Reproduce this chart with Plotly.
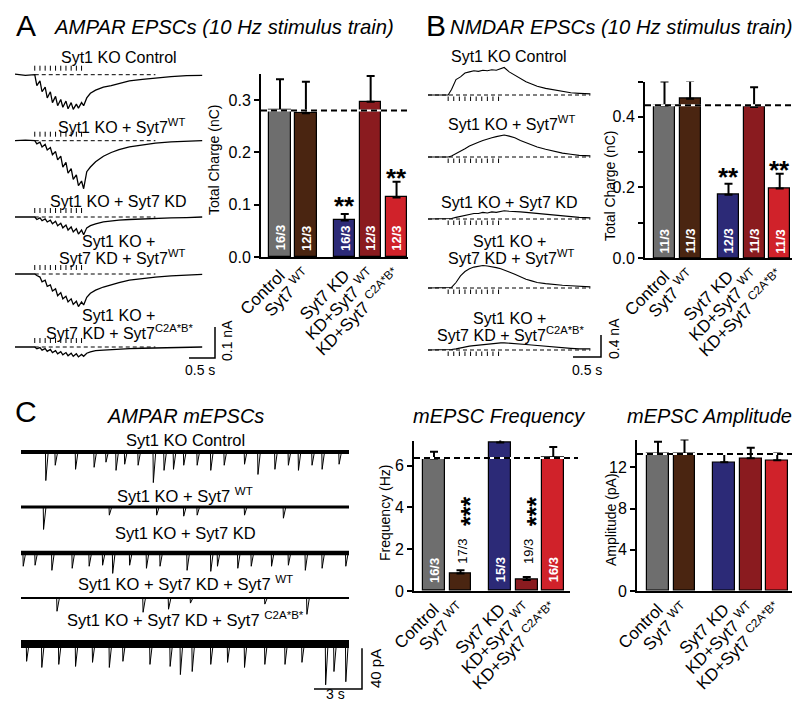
import plotly.graph_objects as go

W, H = 800, 701
FONT = "Liberation Sans, Arial, Helvetica, sans-serif"

# ------------------------------------------------------------------ data
groups = ["Control", "Syt7 <sup>WT</sup>", "Syt7 KD", "KD+Syt7 <sup>WT</sup>",
          "KD+Syt7 <sup>C2A*B*</sup>"]
bar_colors = ["#6e6e6e", "#4a2511", "#2c2a77", "#8a1b1f", "#d0222a"]

ampa_charge = [0.281, 0.275, 0.070, 0.297, 0.114]
ampa_charge_err = [0.059, 0.060, 0.012, 0.049, 0.030]
ampa_n = ["16/3", "12/3", "16/3", "12/3", "12/3"]
ampa_stars = ["", "", "**", "", "**"]
ampa_ref = 0.28

nmda_charge = [0.431, 0.451, 0.179, 0.428, 0.197]
nmda_charge_err = [0.069, 0.051, 0.031, 0.056, 0.042]
nmda_n = ["11/3", "11/3", "12/3", "11/3", "11/3"]
nmda_stars = ["", "", "**", "", "**"]
nmda_ref = 0.433

mini_freq = [6.34, 0.84, 7.10, 0.53, 6.38]
mini_freq_err = [0.32, 0.15, 0.27, 0.14, 0.51]
mini_freq_n = ["16/3", "17/3", "15/3", "19/3", "16/3"]
mini_freq_stars = ["", "***", "", "***", ""]
mini_freq_ref = 6.36

mini_amp = [13.3, 13.3, 12.5, 12.9, 12.7]
mini_amp_err = [1.2, 1.4, 0.8, 1.0, 0.65]
mini_amp_ref = 13.3

# AMPAR EPSC traces (time s, current nA)
ampa_t = [0.0, 0.2, 0.38, 0.42, 0.48, 0.52, 0.58, 0.62, 0.68, 0.72, 0.78, 0.82,
          0.88, 0.92, 0.98, 1.02, 1.08, 1.12, 1.18, 1.22, 1.28, 1.32, 1.38, 1.45,
          1.55, 1.7, 1.85, 2.0, 2.2, 2.45, 2.7, 3.0, 3.3, 3.6]
ampa_ctrl = [0.002, -0.002, 0.0, -0.035, -0.02, -0.055, -0.04, -0.075, -0.055, -0.09,
             -0.07, -0.1, -0.08, -0.105, -0.085, -0.11, -0.09, -0.112, -0.095, -0.108,
             -0.09, -0.1, -0.075, -0.06, -0.05, -0.04, -0.035, -0.028, -0.02, -0.015,
             -0.01, -0.006, -0.003, -0.002]
ampa_wt = [0.0, 0.002, 0.0, -0.01, -0.005, -0.02, -0.012, -0.03, -0.022, -0.045,
           -0.035, -0.062, -0.05, -0.085, -0.07, -0.105, -0.09, -0.125, -0.11, -0.145,
           -0.13, -0.155, -0.1, -0.085, -0.068, -0.05, -0.038, -0.029, -0.02, -0.013,
           -0.008, -0.004, -0.002, 0.0]
ampa_kd = [0.0, 0.001, 0.0, -0.008, -0.003, -0.012, -0.006, -0.016, -0.01, -0.022,
           -0.014, -0.028, -0.02, -0.035, -0.026, -0.042, -0.032, -0.048, -0.038, -0.055,
           -0.042, -0.057, -0.035, -0.028, -0.022, -0.016, -0.012, -0.01, -0.008, -0.006,
           -0.004, -0.003, -0.002, 0.0]
ampa_kdwt = [0.0, 0.0, 0.0, -0.005, -0.01, -0.025, -0.02, -0.04, -0.035, -0.055,
             -0.048, -0.07, -0.06, -0.08, -0.072, -0.09, -0.08, -0.098, -0.088, -0.105,
             -0.09, -0.1, -0.075, -0.062, -0.052, -0.042, -0.034, -0.028, -0.02, -0.014,
             -0.01, -0.006, -0.003, -0.001]
ampa_c2a = [0.0, 0.0, 0.0, -0.006, -0.002, -0.01, -0.005, -0.014, -0.008, -0.018,
            -0.012, -0.022, -0.015, -0.025, -0.018, -0.028, -0.02, -0.03, -0.022, -0.032,
            -0.024, -0.03, -0.02, -0.016, -0.012, -0.01, -0.008, -0.006, -0.005, -0.004,
            -0.003, -0.002, -0.001, 0.0]
ampa_stim = [0.38, 0.48, 0.58, 0.68, 0.78, 0.88, 0.98, 1.08, 1.18, 1.28]

# NMDAR EPSC traces (time s, current nA, shown upward)
nmda_t = [0.0, 0.2, 0.36, 0.42, 0.5, 0.58, 0.66, 0.74, 0.82, 0.9, 0.98, 1.06, 1.14,
          1.22, 1.3, 1.36, 1.45, 1.55, 1.65, 1.75, 1.85, 1.95, 2.1, 2.25, 2.4, 2.55,
          2.7, 2.9]
nmda_ctrl = [0.0, 0.005, 0.0, 0.1, 0.28, 0.33, 0.4, 0.42, 0.44, 0.43, 0.45, 0.44,
             0.46, 0.45, 0.48, 0.5, 0.42, 0.36, 0.3, 0.24, 0.2, 0.16, 0.12, 0.09,
             0.06, 0.04, 0.03, 0.02]
nmda_wt = [0.0, 0.0, 0.0, 0.02, 0.06, 0.1, 0.15, 0.2, 0.24, 0.27, 0.3, 0.33, 0.35,
           0.37, 0.39, 0.4, 0.38, 0.35, 0.3, 0.26, 0.22, 0.18, 0.14, 0.1, 0.07, 0.05,
           0.03, 0.02]
nmda_kd = [0.0, 0.0, 0.0, 0.01, 0.03, 0.05, 0.07, 0.09, 0.1, 0.1, 0.12, 0.11, 0.13,
           0.12, 0.14, 0.15, 0.14, 0.14, 0.13, 0.12, 0.11, 0.1, 0.08, 0.07, 0.05,
           0.04, 0.03, 0.02]
nmda_kdwt = [0.0, 0.0, 0.0, 0.01, 0.1, 0.22, 0.3, 0.35, 0.38, 0.4, 0.41, 0.4, 0.39,
             0.37, 0.35, 0.33, 0.29, 0.25, 0.2, 0.16, 0.13, 0.1, 0.08, 0.06, 0.05,
             0.04, 0.03, 0.02]
nmda_c2a = [0.0, 0.0, 0.0, 0.01, 0.02, 0.04, 0.05, 0.07, 0.08, 0.09, 0.1, 0.1, 0.11,
            0.12, 0.13, 0.13, 0.12, 0.12, 0.11, 0.1, 0.09, 0.08, 0.07, 0.05, 0.04,
            0.03, 0.02, 0.02]
nmda_stim = [0.36, 0.46, 0.56, 0.66, 0.76, 0.86, 0.96, 1.06, 1.16, 1.26]

# mEPSC events (time s, amplitude pA)
mini_ctrl_t = [1.55, 2.14, 3.41, 4.57, 5.31, 5.94, 6.48, 7.32, 8.27, 8.94, 9.53, 10.17,
               11.01, 11.86, 12.70, 13.97, 14.81, 15.87, 16.71, 17.34, 18.19, 18.82, 19.88]
mini_ctrl_a = [28, 13, 17, 15, 10, 18, 12, 13, 30, 18, 17, 13, 13, 18, 13, 12, 22, 17,
               13, 18, 13, 17, 12]
mini_wt_t = [1.41, 5.52, 8.48, 10.17, 11.01, 13.97, 16.4]
mini_wt_a = [22, 8, 8, 9, 8, 8, 11]
mini_kd_t = [0.14, 0.88, 1.93, 3.2, 4.26, 5.1, 5.73, 6.79, 7.84, 8.69, 10.38, 11.86,
             12.28, 13.55, 14.39, 15.66, 16.71, 17.77, 18.82, 20.3]
mini_kd_a = [13, 12, 17, 15, 13, 12, 20, 12, 15, 13, 17, 18, 13, 15, 13, 13, 12, 17, 15, 13]
mini_kdwt_t = [2.25, 7.63, 9.22, 10.59, 15.24, 17.87]
mini_kdwt_a = [13, 14, 11, 5, 6, 16]
mini_c2a_t = [0.35, 1.3, 2.36, 3.41, 4.47, 5.52, 6.37, 8.06, 9.32, 9.96, 10.7, 11.86,
              12.91, 13.97, 15.24, 16.5, 17.56, 19.04, 19.56, 20.3]
mini_c2a_a = [17, 23, 20, 22, 18, 23, 17, 20, 22, 30, 27, 20, 18, 23, 20, 20, 18, 40, 27, 37]
mini_duration = 20.5

# ------------------------------------------------------------------ helpers
fig = go.Figure()
annotations, shapes = [], []
layout_axes = {}


def px2x(px):
    return px / W


def py2y(py):
    return 1 - py / H


def ax_names(n):
    return ("x" if n == 1 else f"x{n}", "y" if n == 1 else f"y{n}",
            "xaxis" if n == 1 else f"xaxis{n}", "yaxis" if n == 1 else f"yaxis{n}")


def text(px, py, s, size=16, angle=0, xanchor="center", italic=False, **kw):
    if italic:
        s = f"<i>{s}</i>"
    annotations.append(dict(x=px2x(px), y=py2y(py), xref="paper", yref="paper", text=s,
                            showarrow=False, xanchor=xanchor, yanchor="middle",
                            textangle=angle, font=dict(family=FONT, size=size, color="black"),
                            **kw))


# ------------------------------------------------------------------ bar panels
xpos = [0, 1, 2.5, 3.5, 4.5]


def bar_panel(n, means, errs, L, R, c0, u, zero_px, ppu, ymax, ref, dash_r,
              tickvals, ticktext):
    xn, yn, xk, yk = ax_names(n)
    fig.add_trace(go.Bar(
        x=xpos, y=means, width=0.82, xaxis=xn, yaxis=yn, showlegend=False,
        marker=dict(color=bar_colors, line=dict(color="black", width=1.2)),
        error_y=dict(type="data", array=errs, arrayminus=[0] * len(errs), symmetric=False,
                     color="black", thickness=2, width=4)))
    top_px = zero_px - ymax * ppu
    layout_axes[xk] = dict(domain=[px2x(L), px2x(R)], range=[(L - c0) / u, (R - c0) / u],
                           anchor=yn, showline=True, linecolor="black", linewidth=2,
                           ticks="", tickvals=xpos, ticktext=groups, tickangle=-45,
                           tickfont=dict(family=FONT, size=17, color="black"),
                           showgrid=False, zeroline=False, automargin=False)
    layout_axes[yk] = dict(domain=[py2y(zero_px), py2y(top_px)], range=[0, ymax],
                           anchor=xn, showline=True, linecolor="black", linewidth=2,
                           ticks="outside", ticklen=5, tickwidth=1.5, tickcolor="black",
                           tickvals=tickvals, ticktext=ticktext,
                           tickfont=dict(family=FONT, size=16, color="black"),
                           showgrid=False, zeroline=False, automargin=False)
    shapes.append(dict(type="line", xref="paper", yref=yn, x0=px2x(L), x1=px2x(dash_r),
                       y0=ref, y1=ref, line=dict(color="white", width=2), layer="above"))
    shapes.append(dict(type="line", xref="paper", yref=yn, x0=px2x(L), x1=px2x(dash_r),
                       y0=ref, y1=ref, line=dict(color="black", width=2, dash="6px,4px"),
                       layer="above"))
    return xn, yn


def bar_note(xn, yn, i, y, s, color="white", size=13, bold=True, yshift=0, xshift=0):
    if bold:
        s = f"<b>{s}</b>"
    annotations.append(dict(x=xpos[i], y=y, xref=xn, yref=yn, text=s, showarrow=False,
                            textangle=-90, xanchor="center", yanchor="middle",
                            yshift=yshift, xshift=xshift,
                            font=dict(family=FONT, size=size, color=color)))


def star_note(xn, yn, i, y, s, angle=0, size=26, xshift=0, yshift=-7):
    annotations.append(dict(x=xpos[i], y=y, xref=xn, yref=yn, text=f"<b>{s}</b>",
                            showarrow=False, textangle=angle, xanchor="center",
                            yanchor="middle", xshift=xshift, yshift=yshift,
                            font=dict(family=FONT, size=size, color="black")))


# A bars
xa, ya = bar_panel(2, ampa_charge, ampa_charge_err, 253, 400, 272, 25.9, 249, 523, 0.35,
                   ampa_ref, 400, [0, 0.1, 0.2, 0.3], ["0.0", "0.1", "0.2", "0.3"])
for i, s in enumerate(ampa_n):
    bar_note(xa, ya, i, 0.036, s)
for i, (s, y) in enumerate(zip(ampa_stars, [None, None, 0.110, None, 0.164])):
    if s:
        star_note(xa, ya, i, y, s)

# B bars
xb, yb = bar_panel(4, nmda_charge, nmda_charge_err, 637, 788, 656.5, 25.6, 250, 353, 0.5,
                   nmda_ref, 787, [0, 0.1, 0.2, 0.3, 0.4, 0.5],
                   ["0.0", "", "0.2", "", "0.4", ""])
for i, s in enumerate(nmda_n):
    bar_note(xb, yb, i, 0.048, s)
for i, (s, y) in enumerate(zip(nmda_stars, [None, None, 0.25, None, 0.269])):
    if s:
        star_note(xb, yb, i, y, s)

# Frequency bars
xf, yf = bar_panel(6, mini_freq, mini_freq_err, 406, 562, 426, 26.5, 583, 20.9, 7.2,
                   mini_freq_ref, 570, [0, 2, 4, 6], ["0", "2", "4", "6"])
for i, s in enumerate(mini_freq_n):
    if mini_freq[i] > 2:
        bar_note(xf, yf, i, 1.0, s)
    else:
        bar_note(xf, yf, i, 1.9, s, color="black", size=13, bold=False, xshift=2)
for i, s in enumerate(mini_freq_stars):
    if s:
        star_note(xf, yf, i, 3.8, s, angle=-90, size=25, xshift=9, yshift=0)

# Amplitude bars
xm, ym = bar_panel(7, mini_amp, mini_amp_err, 629, 788, 650, 26.5, 583, 10.3, 14.7,
                   mini_amp_ref, 796, [0, 4, 8, 12], ["0", "4", "8", "12"])

# ------------------------------------------------------------------ trace panels
def trace_axes(n, L, R, top, bot, t0_px, px_per_t, px_per_v):
    xn, yn, xk, yk = ax_names(n)
    layout_axes[xk] = dict(domain=[px2x(L), px2x(R)],
                           range=[(L - t0_px) / px_per_t, (R - t0_px) / px_per_t],
                           anchor=yn, visible=False, showgrid=False, zeroline=False)
    layout_axes[yk] = dict(domain=[py2y(bot), py2y(top)],
                           range=[-(bot - top) / px_per_v, 0],
                           anchor=xn, visible=False, showgrid=False, zeroline=False)
    return xn, yn


def line(xn, yn, x, y, width=1.2, dash=None, color="black"):
    fig.add_trace(go.Scatter(x=x, y=y, mode="lines", xaxis=xn, yaxis=yn,
                             showlegend=False, hoverinfo="skip",
                             line=dict(color=color, width=width, dash=dash)))


# ---- Panel A traces
A_TOP, A_BOT, A_T0, A_PXS, A_PXV = 30, 372, 7, 52, 310
xt, yt = trace_axes(1, 0, 240, A_TOP, A_BOT, A_T0, A_PXS, A_PXV)
a_base_px = [66.7, 132.7, 209, 266, 339]
for base_px, vals in zip(a_base_px, [ampa_ctrl, ampa_wt, ampa_kd, ampa_kdwt, ampa_c2a]):
    off = -(base_px - A_TOP) / A_PXV
    line(xt, yt, [ampa_stim[0], 2.7], [off, off], width=1, dash="4px,3px")
    sx, sy = [], []
    for s in ampa_stim:
        sx += [s, s, None]
        sy += [off + 4 / A_PXV, off + 9 / A_PXV, None]
    line(xt, yt, sx, sy, width=1)
    line(xt, yt, ampa_t, [off + v for v in vals], width=1.3)
# scale bar A
cx = (207 - A_T0) / A_PXS
cy = -(350 - A_TOP) / A_PXV
line(xt, yt, [cx - 0.5, cx, cx], [cy, cy, cy + 0.1], width=1.5)
text(192, 362, "0.5 s", 14)
text(219, 333, "0.1 nA", 14, angle=-90)

text(111, 50, "Syt1 KO Control")
text(114, 118, "Syt1 KO + Syt7<sup>WT</sup>")
text(110, 193, "Syt1 KO + Syt7 KD")
text(110, 233, "Syt1 KO +")
text(114, 249, "Syt7 KD + Syt7<sup>WT</sup>")
text(110, 308, "Syt1 KO +")
text(112, 324, "Syt7 KD + Syt7<sup>C2A*B*</sup>")

# ---- Panel B traces
B_TOP, B_BOT, B_T0, B_PXS, B_PXV = 30, 372, 420, 56, 55
xu, yu = trace_axes(3, 400, 610, B_TOP, B_BOT, B_T0, B_PXS, B_PXV)
b_base_px = [87, 149, 211, 280, 342]
for base_px, vals in zip(b_base_px, [nmda_ctrl, nmda_wt, nmda_kd, nmda_kdwt, nmda_c2a]):
    off = -(base_px - B_TOP) / B_PXV
    line(xu, yu, [0, 2.9], [off, off], width=1, dash="4px,3px")
    sx, sy = [], []
    for s in nmda_stim:
        sx += [s, s, None]
        sy += [off - 1.5 / B_PXV, off - 6 / B_PXV, None]
    line(xu, yu, sx, sy, width=1)
    line(xu, yu, nmda_t, [off + v for v in vals], width=1.1)
cx = (593 - B_T0) / B_PXS
cy = -(349 - B_TOP) / B_PXV
line(xu, yu, [cx - 0.5, cx, cx], [cy, cy, cy + 0.4], width=1.5)
text(579, 362, "0.5 s", 14)
text(606, 331, "0.4 nA", 14, angle=-90)

text(501, 49, "Syt1 KO Control")
text(503, 115, "Syt1 KO + Syt7<sup>WT</sup>")
text(501, 194, "Syt1 KO + Syt7 KD")
text(501, 233, "Syt1 KO +")
text(503, 249, "Syt7 KD + Syt7<sup>WT</sup>")
text(501, 311, "Syt1 KO +")
text(503, 326, "Syt7 KD + Syt7<sup>C2A*B*</sup>")

# ---- Panel C traces
C_TOP, C_BOT, C_T0, C_PXS, C_PXV = 420, 700, 13, 16, 1.02
xc, yc = trace_axes(5, 0, 400, C_TOP, C_BOT, C_T0, C_PXS, C_PXV)
c_base_px = [444, 499, 545, 590, 636]
c_noise_w = [4, 3, 4.5, 2, 8]
c_events = [(mini_ctrl_t, mini_ctrl_a), (mini_wt_t, mini_wt_a), (mini_kd_t, mini_kd_a),
            (mini_kdwt_t, mini_kdwt_a), (mini_c2a_t, mini_c2a_a)]
for base_px, w, (et, ea) in zip(c_base_px, c_noise_w, c_events):
    off = -(base_px - C_TOP) / C_PXV
    line(xc, yc, [0, mini_duration], [off, off], width=w)
    sx, sy = [], []
    for t, a in zip(et, ea):
        sx += [t - 0.02, t, t + 0.15, None]
        sy += [off, off - a, off, None]
    line(xc, yc, sx, sy, width=1)
cx = (354 - C_T0) / C_PXS
cy = -(681 - C_TOP) / C_PXV
line(xc, yc, [cx - 3, cx, cx], [cy, cy, cy + 40], width=1.5)
text(327, 686, "3 s", 14)
text(367, 661, "40 pA", 15, angle=-90)

text(177, 432, "Syt1 KO Control", 16.5)
text(177, 487, "Syt1 KO + Syt7 <sup>WT</sup>", 16.5)
text(177, 525, "Syt1 KO + Syt7 KD", 16.5)
text(177, 575, "Syt1 KO + Syt7 KD + Syt7 <sup>WT</sup>", 16.5)
text(177, 611, "Syt1 KO + Syt7 KD + Syt7 <sup>C2A*B*</sup>", 16.5)

# ------------------------------------------------------------------ titles
text(18, 18, "A", 30)
text(216, 19, "AMPAR EPSCs (10 Hz stimulus train)", 20.3, italic=True)
text(428, 18, "B", 30)
text(613, 19, "NMDAR EPSCs (10 Hz stimulus train)", 20.3, italic=True)
text(18, 403, "C", 30)
text(177, 408, "AMPAR mEPSCs", 20, italic=True)
text(491, 408, "mEPSC Frequency", 20, italic=True)
text(701, 408, "mEPSC Amplitude", 20, italic=True)

text(206, 152, "Total Charge (nC)", 14, angle=-90)
text(602, 178, "Total Charge (nC)", 14, angle=-90)
text(377, 505, "Frequency (Hz)", 14, angle=-90)
text(603, 512, "Amplitude (pA)", 14, angle=-90)

fig.update_layout(width=W, height=H, margin=dict(l=0, r=0, t=0, b=0),
                  paper_bgcolor="white", plot_bgcolor="white",
                  font=dict(family=FONT, color="black"),
                  annotations=annotations, shapes=shapes, bargap=0,
                  **layout_axes)
fig.write_html("out.html")
